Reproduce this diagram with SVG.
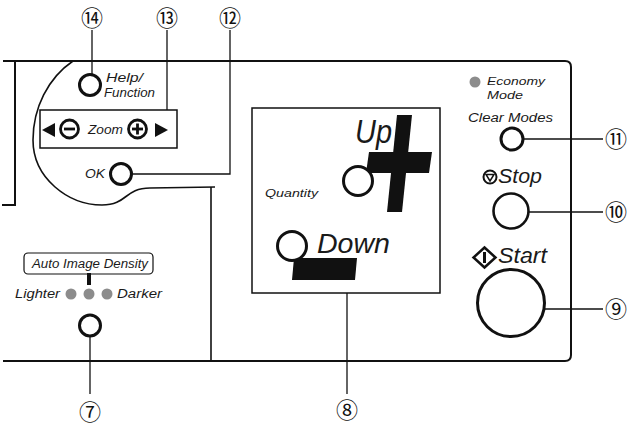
<svg xmlns="http://www.w3.org/2000/svg" width="628" height="428" viewBox="0 0 628 428">
<style>
.t{font-family:"Liberation Sans",Arial,sans-serif;font-style:italic;fill:#1a1a1a}
.n{font-family:"Noto Sans CJK JP","DejaVu Sans",sans-serif;font-size:22px;fill:#111;text-anchor:middle}
.btn{fill:#fff;stroke:#111;stroke-width:3}
.ln{fill:none;stroke:#111;stroke-width:1.3}
.pl{fill:none;stroke:#111;stroke-width:2}
.dot{fill:#8c8c8c}
</style>
<rect width="628" height="428" fill="#fff"/>
<g id="panel">
<path class="pl" d="M3 61 L565 61 Q571 61 571 67 L571 355 Q571 361 565 361 L3 361"/>
<path class="pl" d="M15 61 L15 205 L2 205"/>
<path class="ln" style="stroke-width:1.6" d="M73 61 C48 78 33 108 33 140 C33 178 68 205 102 205 C128 205 124 188 150 188 L215 187"/>
<path class="ln" style="stroke-width:1.6" d="M211 187 L211 361"/>
</g>
<g id="connectors">
<path class="ln" d="M92 30 L92 75"/>
<path class="ln" d="M167 30 L167 110"/>
<path class="ln" d="M230 30 L230 174 L122 174"/>
<path class="ln" d="M90 326 L90 394"/>
<path class="ln" d="M347 293 L347 394"/>
<path class="ln" d="M512 139 L603 139"/>
<path class="ln" d="M512 212 L603 212"/>
<path class="ln" d="M512 309 L603 309"/>
</g>
<g id="n14"><text class="n" x="92" y="26">⑭</text></g>
<g id="n13"><text class="n" x="167" y="26">⑬</text></g>
<g id="n12"><text class="n" x="230" y="26">⑫</text></g>
<g id="n7"><text class="n" x="90" y="420">⑦</text></g>
<g id="n8"><text class="n" x="347" y="418">⑧</text></g>
<g id="n11"><text class="n" x="616" y="147">⑪</text></g>
<g id="n10"><text class="n" x="616" y="220">⑩</text></g>
<g id="n9"><text class="n" x="616" y="317">⑨</text></g>
<g id="help">
<circle class="btn" cx="90" cy="85" r="10.5"/>
<text class="t" x="106" y="82" font-size="13" textLength="37" lengthAdjust="spacingAndGlyphs">Help/</text>
<text class="t" x="104" y="97" font-size="13" textLength="51" lengthAdjust="spacingAndGlyphs">Function</text>
</g>
<g id="zoom">
<rect x="40" y="110" width="137" height="38" fill="#fff" stroke="#111" stroke-width="1.5"/>
<polygon points="42,130 55,123 55,137" fill="#111"/>
<circle cx="69.5" cy="129" r="9" fill="#fff" stroke="#111" stroke-width="2.8"/>
<rect x="64" y="127.6" width="11" height="2.8" fill="#111"/>
<text class="t" x="88" y="134" font-size="12.5" textLength="35" lengthAdjust="spacingAndGlyphs">Zoom</text>
<circle cx="137.5" cy="129" r="9" fill="#fff" stroke="#111" stroke-width="2.8"/>
<rect x="132" y="127.6" width="11" height="2.8" fill="#111"/>
<rect x="136.1" y="123.5" width="2.8" height="11" fill="#111"/>
<polygon points="168,130 155,123 155,137" fill="#111"/>
</g>
<g id="ok">
<circle class="btn" cx="121" cy="174" r="10.5"/>
<text class="t" x="85" y="178" font-size="12.5" textLength="20" lengthAdjust="spacingAndGlyphs">OK</text>
</g>
<g id="density">
<rect x="24" y="253" width="129" height="21" rx="4" fill="#fff" stroke="#111" stroke-width="1.2"/>
<text class="t" x="32" y="268" font-size="12.5" textLength="116" lengthAdjust="spacingAndGlyphs">Auto Image Density</text>
<rect x="87" y="273" width="4" height="12" fill="#111"/>
<text class="t" x="15" y="298" font-size="12.5" textLength="45" lengthAdjust="spacingAndGlyphs">Lighter</text>
<circle class="dot" cx="71" cy="294" r="5.5"/>
<circle class="dot" cx="89" cy="294" r="5.5"/>
<circle class="dot" cx="107" cy="294" r="5.5"/>
<text class="t" x="117" y="298" font-size="12.5" textLength="45" lengthAdjust="spacingAndGlyphs">Darker</text>
<circle class="btn" cx="90" cy="325.5" r="10.5"/>
</g>
<g id="quantity">
<rect x="252" y="108" width="188" height="185" fill="#fff" stroke="#111" stroke-width="1.5"/>
<text class="t" x="355" y="143" font-size="33" textLength="37" lengthAdjust="spacingAndGlyphs">Up</text>
<polygon points="397,115 412,115 402,212 387,212" fill="#111"/>
<polygon points="369,152 432,152 429,173 366,173" fill="#111"/>
<circle class="btn" cx="358" cy="181" r="14.5"/>
<text class="t" x="265" y="197" font-size="11" textLength="53" lengthAdjust="spacingAndGlyphs">Quantity</text>
<polygon points="294,258 357,258 355,280 292,280" fill="#111"/>
<circle class="btn" cx="292" cy="246" r="14.5"/>
<text class="t" x="317" y="253" font-size="27" textLength="73" lengthAdjust="spacingAndGlyphs">Down</text>
</g>
<g id="economy">
<circle class="dot" cx="475" cy="82" r="5.5"/>
<text class="t" x="487" y="85" font-size="11.5" textLength="58" lengthAdjust="spacingAndGlyphs">Economy</text>
<text class="t" x="487" y="99" font-size="11.5" textLength="36" lengthAdjust="spacingAndGlyphs">Mode</text>
</g>
<g id="clear">
<text class="t" x="468" y="122" font-size="12.5" textLength="85" lengthAdjust="spacingAndGlyphs">Clear Modes</text>
<circle class="btn" cx="512" cy="139" r="11"/>
</g>
<g id="stop">
<circle cx="490" cy="177" r="6.5" fill="#fff" stroke="#111" stroke-width="2"/>
<path d="M486 174.5 L494 174.5 L490 181 Z" fill="none" stroke="#111" stroke-width="1.5"/>
<text class="t" x="498" y="183" font-size="21" textLength="44" lengthAdjust="spacingAndGlyphs">Stop</text>
<circle class="btn" cx="511" cy="211" r="17.5" style="stroke-width:2.6"/>
</g>
<g id="start">
<path d="M484.5 247.5 L495.5 257.5 L484.5 267.5 L473.5 257.5 Z" fill="#fff" stroke="#111" stroke-width="2.5"/>
<rect x="483" y="252" width="3" height="11" fill="#111"/>
<text class="t" x="498" y="263" font-size="22" textLength="49" lengthAdjust="spacingAndGlyphs">Start</text>
<circle class="btn" cx="511" cy="303" r="33.5"/>
</g>
</svg>
